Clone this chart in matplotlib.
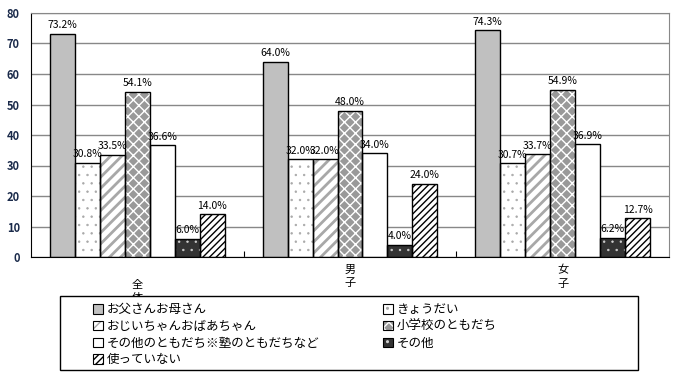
import numpy as np
import matplotlib
matplotlib.use('Agg')
import matplotlib.pyplot as plt
from matplotlib.patches import Patch, Rectangle
from matplotlib.legend_handler import HandlerTuple

plt.rcParams['font.family'] = ['Noto Sans CJK JP', 'DejaVu Sans']
plt.rcParams['hatch.linewidth'] = 1.0

groups = ['\n全\n体', '男\n子', '女\n子']
series = ['お父さんお母さん', 'きょうだい', 'おじいちゃんおばあちゃん', '小学校のともだち',
          'その他のともだち※塾のともだちなど', 'その他', '使っていない']
zentai = [73.2, 30.8, 33.5, 54.1, 36.6, 6.0, 14.0]
danshi = [64.0, 32.0, 32.0, 48.0, 34.0, 4.0, 24.0]
joshi = [74.3, 30.7, 33.7, 54.9, 36.9, 6.2, 12.7]
yticks = [0, 10, 20, 30, 40, 50, 60, 70, 80]

# (face, hatch, hatch colour, hatch linewidth)
styles = [
    ('#c0c0c0', None, None, 1.0),
    ('white', '..', '#a8a8a8', 0.5),
    ('white', '///', '#a8a8a8', 2.0),
    ('#999999', 'xxx', 'white', 1.0),
    ('white', None, None, 1.0),
    ('#333333', '..', '#d0d0d0', 0.5),
    ('white', '/////', 'black', 1.0),
]

values = np.array([zentai, danshi, joshi])
fig = plt.figure(figsize=(6.74, 3.73), dpi=100)
ax = fig.add_axes([31 / 674, 1 - 257 / 373, 638 / 674, 244 / 373])

x = np.arange(len(groups))
bw = 25 / 213
handles = []
for i, (face, hatch, hc, hlw) in enumerate(styles):
    pos = x - 3 * bw + i * bw
    vals = values[:, i]
    if hatch:
        bars = ax.bar(pos, vals, bw, color=face, edgecolor=hc, hatch=hatch, linewidth=0, zorder=2)
        for b in bars:
            if hasattr(b, 'set_hatch_linewidth'):
                b.set_hatch_linewidth(hlw)
    else:
        ax.bar(pos, vals, bw, color=face, linewidth=0, zorder=2)
    ax.bar(pos, vals, bw, fill=False, edgecolor='black', linewidth=1.0, zorder=3)
    for px, v in zip(pos, vals):
        ax.text(px, v + 1.2, f'{v:.1f}%', ha='center', va='bottom', fontsize=7.5, zorder=4)
    fp = Patch(facecolor=face, edgecolor=hc if hatch else face, hatch=hatch, linewidth=0)
    ep = Patch(fill=False, edgecolor='black', linewidth=0.8)
    handles.append((fp, ep))

ax.set_xlim(-0.5, 2.5)
ax.set_ylim(0, 80)
ax.set_yticks(yticks)
ax.set_yticklabels([str(t) for t in yticks], fontsize=8, fontweight='bold', color='#1a2a4a')
ax.yaxis.grid(True, color='#888888', linewidth=1.0, zorder=0)
ax.set_axisbelow(True)
ax.set_xticks([0.5, 1.5])
ax.set_xticklabels([])
ax.tick_params(axis='x', direction='in', length=4)
ax.tick_params(axis='y', length=0, pad=8)
for gx, g in zip(x, groups):
    ax.text(gx, -3.0 if gx == 0 else -2.5, g, ha='center', va='top', fontsize=8, linespacing=1.45)
ax.spines['top'].set_color('#888888')
ax.spines['right'].set_color('#888888')

# legend box
fig.patches.append(Rectangle((60 / 674, 3 / 373), 578 / 674, 74 / 373,
                             transform=fig.transFigure, facecolor='white', edgecolor='black',
                             linewidth=1.0, zorder=5))
left_idx = [0, 2, 4, 6]
right_idx = [1, 3, 5]
kw = dict(frameon=False, fontsize=9, handlelength=0.8, handleheight=0.8, handletextpad=0.3,
          labelspacing=0.3, borderpad=0, handler_map={tuple: HandlerTuple(ndivide=1)})
leg1 = fig.legend([handles[i] for i in left_idx], [series[i] for i in left_idx],
                  loc='upper left', bbox_to_anchor=(87 / 674, 1 - 297 / 373), **kw)
leg2 = fig.legend([handles[i] for i in right_idx], [series[i] for i in right_idx],
                  loc='upper left', bbox_to_anchor=(377 / 674, 1 - 297 / 373), **kw)
leg1.set_zorder(6)
leg2.set_zorder(6)

fig.savefig('out.png', dpi=100)
